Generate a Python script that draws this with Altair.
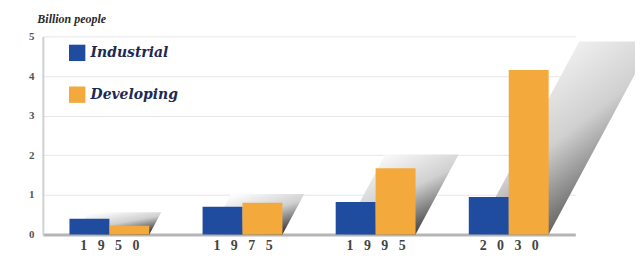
import altair as alt
import pandas as pd

years = ["1950", "1975", "1995", "2030"]
industrial = [0.4, 0.7, 0.82, 0.95]
developing = [0.22, 0.8, 1.67, 4.15]
series = ["Industrial", "Developing"]
colors = ["#1f4c9e", "#f4a93c"]

BW = 0.3  # bar width in band units

rows = []
for i, y in enumerate(years):
    rows.append({"year": y, "series": "Industrial", "x": i - BW, "x2": i, "v": industrial[i]})
    rows.append({"year": y, "series": "Developing", "x": i, "x2": i + BW, "v": developing[i]})
bars_df = pd.DataFrame(rows)

srows = []
for i, y in enumerate(years):
    h = max(industrial[i], developing[i]) * 1.15 + 0.1
    d = 0.16 * h
    srows.append({"year": y, "sy": 0.0, "xl": i - BW + 0.05, "xr": i + BW})
    srows.append({"year": y, "sy": h, "xl": i - BW + 0.05 + d, "xr": i + BW + d})
shadow_df = pd.DataFrame(srows)

sep = "\u2002 "
label_expr = "[" + ",".join("'" + sep.join(list(y)) + "'" for y in years) + "][datum.value]"

xscale = alt.Scale(domain=[-0.5, len(years) - 0.5], nice=False, zero=False)
yscale = alt.Scale(domain=[0, 5], nice=False)

xaxis = alt.Axis(
    values=list(range(len(years))),
    labelExpr=label_expr,
    grid=False,
    ticks=False,
    domainColor="#b5b5b5",
    domainWidth=3,
    labelFont="Liberation Serif",
    labelFontWeight="bold",
    labelFontSize=14,
    labelColor="#444444",
    labelPadding=4,
    title=None,
)
yaxis = alt.Axis(
    values=[0, 1, 2, 3, 4, 5],
    labelOverlap=False,
    ticks=False,
    gridColor="#e6e6e6",
    gridWidth=1,
    domainColor="#d0d0d0",
    domainWidth=2,
    labelFont="Liberation Serif",
    labelFontWeight="bold",
    labelFontSize=11,
    labelColor="#555555",
    labelPadding=9,
    title="Billion people",
    titleAngle=0,
    titleAlign="left",
    titleBaseline="alphabetic",
    titleX=-6,
    titleY=-14,
    titleFont="Liberation Serif",
    titleFontStyle="italic",
    titleFontWeight="bold",
    titleFontSize=12,
    titleColor="#2a2a2a",
)

shadow = alt.Chart(shadow_df).mark_area(
    orient="horizontal",
    color=alt.Gradient(
        gradient="linear",
        stops=[
            alt.GradientStop(color="#050505", offset=0),
            alt.GradientStop(color="#666666", offset=0.28),
            alt.GradientStop(color="#d0d0d0", offset=0.58),
            alt.GradientStop(color="#fdfdfd", offset=1),
        ],
        x1=1, y1=1, x2=0.3, y2=0,
    ),
).encode(
    y=alt.Y("sy:Q", scale=yscale, axis=yaxis),
    x=alt.X("xl:Q", scale=xscale, axis=xaxis),
    x2="xr:Q",
    detail="year:N",
)

bars = alt.Chart(bars_df).mark_bar().encode(
    x=alt.X("x:Q", scale=xscale, axis=xaxis),
    x2="x2:Q",
    y=alt.Y("v:Q", scale=yscale, axis=yaxis),
    y2=alt.datum(0),
    color=alt.Color(
        "series:N",
        scale=alt.Scale(domain=series, range=colors),
        legend=alt.Legend(
            orient="none",
            legendX=26,
            legendY=8,
            title=None,
            symbolType="square",
            symbolSize=270,
            symbolStrokeWidth=0,
            symbolOpacity=1,
            rowPadding=25,
            labelFont="DejaVu Serif",
            labelFontStyle="italic",
            labelFontWeight="bold",
            labelFontSize=14,
            labelColor="#1c2a55",
            labelOffset=5,
            padding=0,
        ),
    ),
)

chart = alt.layer(shadow, bars).properties(
    width=535,
    height=199,
    autosize=alt.AutoSizeParams(type="none"),
    padding={"left": 35, "top": 28, "right": 60, "bottom": 20},
).configure(background="white").configure_view(stroke="transparent")

chart.save("out.html", embed_options={"renderer": "svg", "actions": False})
